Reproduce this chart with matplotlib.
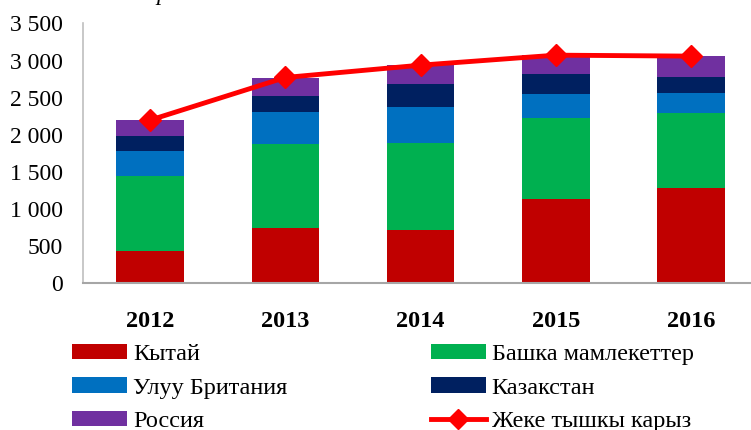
import matplotlib
matplotlib.use("Agg")
import matplotlib.pyplot as plt
import numpy as np
from matplotlib.ticker import FuncFormatter
from matplotlib.patches import Patch
from matplotlib.lines import Line2D

plt.rcParams['font.family'] = ['Liberation Serif', 'DejaVu Serif']

# Данные (оценка по рисунку)
years = ['2012', '2013', '2014', '2015', '2016']
kitay = [431, 745, 718, 1132, 1285]
bashka = [1011, 1128, 1169, 1092, 1006]
britania = [337, 432, 485, 323, 269]
kazakstan = [202, 215, 315, 270, 216]
rossiya = [216, 243, 251, 256, 283]
jeke_karyz = [2197, 2772, 2938, 3073, 3060]

series_names = ['Кытай', 'Башка мамлекеттер', 'Улуу Британия', 'Казакстан', 'Россия']
series_colors = ['#C00000', '#00B050', '#0070C0', '#002060', '#7030A0']
line_name = 'Жеке тышкы карыз'

fig = plt.figure(figsize=(7.51, 4.30), dpi=100)
# ось шире картинки: справа график обрезан, как в оригинале
ax = fig.add_axes([82.5 / 751, 1 - 283 / 430, 676 / 751, (283 - 23.5) / 430])

x = np.arange(len(years))
bottom = np.zeros(len(years))
handles = []
for name, vals, col in zip(series_names, [kitay, bashka, britania, kazakstan, rossiya], series_colors):
    ax.bar(x, vals, width=0.5, bottom=bottom, color=col, zorder=2)
    bottom += np.array(vals)
    handles.append(Patch(facecolor=col, label=name))

ax.plot(x, jeke_karyz, color='#FF0000', lw=3.5, marker='D', ms=11, zorder=3)
line_handle = Line2D([], [], color='#FF0000', lw=3.5, marker='D', ms=10, label=line_name)

ax.set_xlim(-0.5, len(years) - 0.5)
ax.set_ylim(0, 3500)
ax.set_yticks(np.arange(0, 3501, 500))
ax.yaxis.set_major_formatter(FuncFormatter(lambda v, p: f'{int(v):,}'.replace(',', ' ')))
ax.set_xticks(x)
ax.set_xticklabels(years, fontsize=17.5, fontweight='bold')
ax.tick_params(axis='y', length=0, pad=14, labelsize=17)
ax.tick_params(axis='x', length=0, pad=20)

for s in ['top', 'right']:
    ax.spines[s].set_visible(False)
ax.spines['left'].set_color('#BFBFBF')
ax.spines['bottom'].set_color('#A6A6A6')
ax.spines['left'].set_linewidth(1.2)
ax.spines['bottom'].set_linewidth(1.5)

# порядок для ncol=2 (заполнение по столбцам)
leg_handles = [handles[0], handles[2], handles[4], handles[1], handles[3], line_handle]
fig.legend(handles=leg_handles, ncol=2, frameon=False, fontsize=17.5,
           loc='upper left', bbox_to_anchor=(72 / 751, 1 - 344 / 430),
           handlelength=2.26, handleheight=0.6, handletextpad=0.25,
           labelspacing=0.5, columnspacing=5.9, borderpad=0, borderaxespad=0)

# обрезанный заголовок сверху
fig.text(0.208, 1.0, 'р', fontsize=17, style='italic', va='baseline', ha='left')

fig.savefig('out.png', dpi=100)
